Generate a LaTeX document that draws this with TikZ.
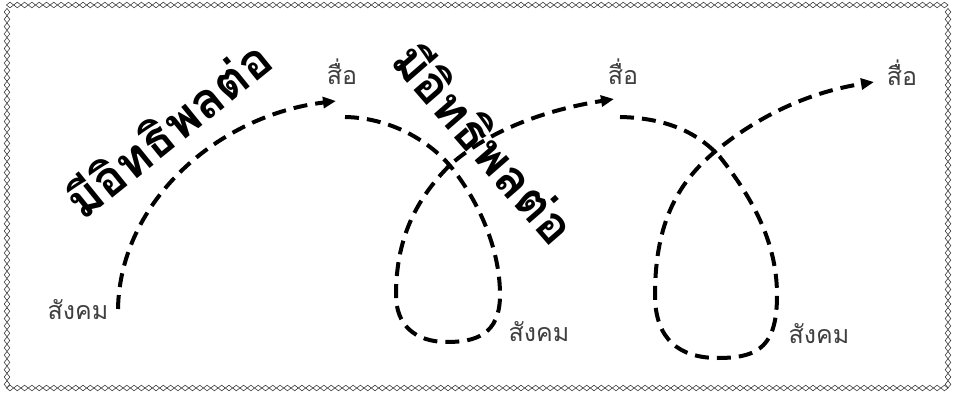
\documentclass[tikz,border=0pt]{standalone}
\usepackage{fontspec}
\newfontfamily\thaifont[Script=Thai]{Loma}
\usetikzlibrary{arrows.meta}
\begin{document}
\begin{tikzpicture}[x=1pt,y=-1pt,
  bd/.style={draw=black!75,line width=0.6pt},
  curve/.style={line width=4pt,dash pattern=on 14pt off 8pt,-{Triangle[length=13pt,width=11pt]}},
  lab/.style={text=black!75,font=\thaifont\fontsize{25}{28}\selectfont,inner sep=0pt},
  big/.style={font=\thaifont\bfseries\fontsize{49}{56}\selectfont,inner sep=0pt}]
\useasboundingbox (0,0) rectangle (957,395);
\fill[white] (0,0) rectangle (957,395);
% diamond border
\foreach \i in {0,...,128} {
  \draw[bd] (10+\i*7.3-3.6,5) -- (10+\i*7.3,2.2) -- (10+\i*7.3+3.6,5) -- (10+\i*7.3,7.8) -- cycle;
  \draw[bd] (10+\i*7.3-3.6,388) -- (10+\i*7.3,385.2) -- (10+\i*7.3+3.6,388) -- (10+\i*7.3,390.8) -- cycle;
}
\foreach \j in {0,...,51} {
  \draw[bd] (7,12+\j*7.3-3.6) -- (9.8,12+\j*7.3) -- (7,12+\j*7.3+3.6) -- (4.2,12+\j*7.3) -- cycle;
  \draw[bd] (948,12+\j*7.3-3.6) -- (950.8,12+\j*7.3) -- (948,12+\j*7.3+3.6) -- (945.2,12+\j*7.3) -- cycle;
}
% anchor coordinates
\coordinate (s1) at (118,309);
\coordinate (e1) at (336,101);
\coordinate (s2) at (345,117);
\coordinate (e2) at (614,99);
\coordinate (s3) at (620,117);
\coordinate (e3) at (874,82);
% curves
\draw[curve] (s1) .. controls (120,200) and (220,115) .. (e1);
\draw[curve] (s2) .. controls (395,118) and (435,145) .. (455,172)
  .. controls (480,205) and (500,250) .. (500,295)
  .. controls (500,335) and (475,342) .. (447,342)
  .. controls (415,342) and (396,325) .. (396,295)
  .. controls (396,240) and (415,200) .. (450,165)
  .. controls (490,130) and (545,110) .. (e2);
\draw[curve] (s3) .. controls (670,118) and (700,135) .. (720,157)
  .. controls (750,195) and (777,240) .. (777,295)
  .. controls (777,345) and (760,358) .. (718,358)
  .. controls (680,358) and (655,340) .. (655,295)
  .. controls (655,220) and (680,180) .. (717,150)
  .. controls (760,115) and (810,92) .. (e3);
% labels
\node[lab] (m1) at (342,72) {สื่อ};
\node[lab] (m2) at (623,72) {สื่อ};
\node[lab] (m3) at (902,73) {สื่อ};
\node[lab] (c1) at (78,310) {สังคม};
\node[lab] (c2) at (539,332) {สังคม};
\node[lab] (c3) at (819,334) {สังคม};
% rotated texts
\node[big,rotate=39] (t1) at (167,128) {มีอิทธิพลต่อ};
\node[big,rotate=-49] (t2) at (486,142) {มีอิทธิพลต่อ};
\end{tikzpicture}
\end{document}
